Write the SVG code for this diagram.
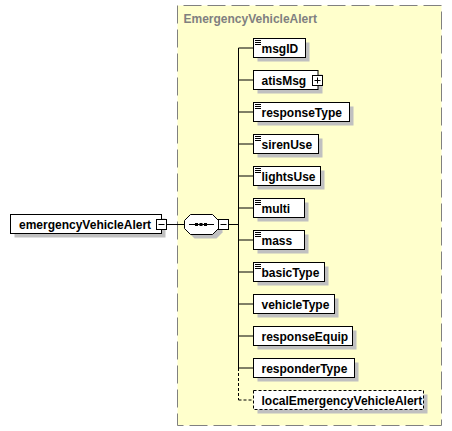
<svg xmlns="http://www.w3.org/2000/svg" width="452" height="431" viewBox="0 0 452 431">
<style>
.box{fill:#ffffff;stroke:#000000;stroke-width:1}
.shadow{fill:#c0c0c0;stroke:none}
.lbl{font-family:"Liberation Sans",Arial,sans-serif;font-size:12px;font-weight:bold;fill:#000000}
.ttl{font-family:"Liberation Sans",Arial,sans-serif;font-size:12px;font-weight:bold;fill:#808080}
.ln{stroke:#000000;stroke-width:1;fill:none}
.dash{stroke:#000000;stroke-width:1;fill:none;stroke-dasharray:3,2}
.icon{stroke:#000000;stroke-width:1}
</style>
<rect width="452" height="431" fill="#ffffff"/>
<g id="complexType">
<rect x="177.5" y="5.5" width="264" height="420" fill="#ffffcc" stroke="#808080" stroke-width="1" stroke-dasharray="18,6" stroke-dashoffset="-6"/>
<text class="ttl" x="183.5" y="23">EmergencyVehicleAlert</text>
</g>
<g id="connectors">
<line class="ln" x1="166.5" y1="224.5" x2="184.5" y2="224.5"/>
<line class="ln" x1="228.5" y1="224.5" x2="238.5" y2="224.5"/>
<line class="ln" x1="238.5" y1="48" x2="238.5" y2="368"/>
<line class="dash" x1="238.5" y1="368" x2="238.5" y2="400"/>
<line class="ln" x1="238.5" y1="48" x2="253.5" y2="48"/>
<line class="ln" x1="238.5" y1="80" x2="253.5" y2="80"/>
<line class="ln" x1="238.5" y1="112" x2="253.5" y2="112"/>
<line class="ln" x1="238.5" y1="144" x2="253.5" y2="144"/>
<line class="ln" x1="238.5" y1="176" x2="253.5" y2="176"/>
<line class="ln" x1="238.5" y1="208" x2="253.5" y2="208"/>
<line class="ln" x1="238.5" y1="240" x2="253.5" y2="240"/>
<line class="ln" x1="238.5" y1="272" x2="253.5" y2="272"/>
<line class="ln" x1="238.5" y1="304" x2="253.5" y2="304"/>
<line class="ln" x1="238.5" y1="336" x2="253.5" y2="336"/>
<line class="ln" x1="238.5" y1="368" x2="253.5" y2="368"/>
<line class="dash" x1="238.5" y1="400" x2="253.5" y2="400"/>
</g>
<g id="emergencyVehicleAlert">
<rect class="shadow" x="14.5" y="218.5" width="151" height="19"/>
<rect class="box" x="10.5" y="214.5" width="151" height="19"/>
<text class="lbl" x="19" y="228.5">emergencyVehicleAlert</text>
<rect class="box" x="156.5" y="219.5" width="10" height="10"/>
<line class="ln" x1="158.5" y1="224.5" x2="164.5" y2="224.5"/>
</g>
<g id="sequence">
<polygon class="shadow" points="194.5,218.5 216.5,218.5 222.5,224.5 222.5,232.5 216.5,238.5 194.5,238.5 188.5,232.5 188.5,224.5"/>
<polygon class="box" points="190.5,214.5 212.5,214.5 218.5,220.5 218.5,228.5 212.5,234.5 190.5,234.5 184.5,228.5 184.5,220.5"/>
<line class="ln" x1="189" y1="224.5" x2="214" y2="224.5"/>
<rect x="195" y="223" width="3" height="3" fill="#000000"/>
<rect x="199.5" y="223" width="3" height="3" fill="#000000"/>
<rect x="204" y="223" width="3" height="3" fill="#000000"/>
<rect class="box" x="218.5" y="219.5" width="10" height="10"/>
<line class="ln" x1="220.5" y1="224.5" x2="226.5" y2="224.5"/>
</g>
<g id="msgID">
<rect class="shadow" x="257.5" y="42.5" width="52" height="19"/>
<rect class="box" x="253.5" y="38.5" width="52" height="19"/>
<path class="icon" d="M255 40.5h6M255 42.5h6M255 44.5h6"/>
<text class="lbl" x="261.5" y="52.5">msgID</text>
</g>
<g id="atisMsg">
<rect class="shadow" x="257.5" y="74.5" width="65" height="19"/>
<rect class="box" x="253.5" y="70.5" width="64.5" height="19"/>
<text class="lbl" x="261.5" y="84.5">atisMsg</text>
<rect class="box" x="312.5" y="75.5" width="10" height="10"/>
<path class="ln" d="M314.5 80.5h6M317.5 77.5v6"/>
</g>
<g id="responseType">
<rect class="shadow" x="257.5" y="106.5" width="96" height="19"/>
<rect class="box" x="253.5" y="102.5" width="96" height="19"/>
<path class="icon" d="M255 104.5h6M255 106.5h6M255 108.5h6"/>
<text class="lbl" x="261.5" y="116.5">responseType</text>
</g>
<g id="sirenUse">
<rect class="shadow" x="257.5" y="138.5" width="65" height="19"/>
<rect class="box" x="253.5" y="134.5" width="65" height="19"/>
<path class="icon" d="M255 136.5h6M255 138.5h6M255 140.5h6"/>
<text class="lbl" x="261.5" y="148.5">sirenUse</text>
</g>
<g id="lightsUse">
<rect class="shadow" x="257.5" y="170.5" width="67" height="19"/>
<rect class="box" x="253.5" y="166.5" width="67" height="19"/>
<path class="icon" d="M255 168.5h6M255 170.5h6M255 172.5h6"/>
<text class="lbl" x="261.5" y="180.5">lightsUse</text>
</g>
<g id="multi">
<rect class="shadow" x="257.5" y="202.5" width="51" height="19"/>
<rect class="box" x="253.5" y="198.5" width="51" height="19"/>
<path class="icon" d="M255 200.5h6M255 202.5h6M255 204.5h6"/>
<text class="lbl" x="261.5" y="212.5">multi</text>
</g>
<g id="mass">
<rect class="shadow" x="257.5" y="234.5" width="51" height="19"/>
<rect class="box" x="253.5" y="230.5" width="51" height="19"/>
<path class="icon" d="M255 232.5h6M255 234.5h6M255 236.5h6"/>
<text class="lbl" x="261.5" y="244.5">mass</text>
</g>
<g id="basicType">
<rect class="shadow" x="257.5" y="266.5" width="71" height="19"/>
<rect class="box" x="253.5" y="262.5" width="71" height="19"/>
<path class="icon" d="M255 264.5h6M255 266.5h6M255 268.5h6"/>
<text class="lbl" x="261.5" y="276.5">basicType</text>
</g>
<g id="vehicleType">
<rect class="shadow" x="257.5" y="298.5" width="81" height="19"/>
<rect class="box" x="253.5" y="294.5" width="81" height="19"/>
<text class="lbl" x="261.5" y="308.5">vehicleType</text>
</g>
<g id="responseEquip">
<rect class="shadow" x="257.5" y="330.5" width="99" height="19"/>
<rect class="box" x="253.5" y="326.5" width="99" height="19"/>
<text class="lbl" x="261.5" y="340.5">responseEquip</text>
</g>
<g id="responderType">
<rect class="shadow" x="257.5" y="362.5" width="101" height="19"/>
<rect class="box" x="253.5" y="358.5" width="101" height="19"/>
<text class="lbl" x="261.5" y="372.5">responderType</text>
</g>
<g id="localEmergencyVehicleAlert">
<rect class="shadow" x="257.5" y="394.5" width="170" height="19"/>
<rect x="253.5" y="390.5" width="170" height="19" fill="#ffffff" stroke="#000000" stroke-width="1" stroke-dasharray="3,2"/>
<text class="lbl" x="261.5" y="404.5">localEmergencyVehicleAlert</text>
</g>
</svg>
